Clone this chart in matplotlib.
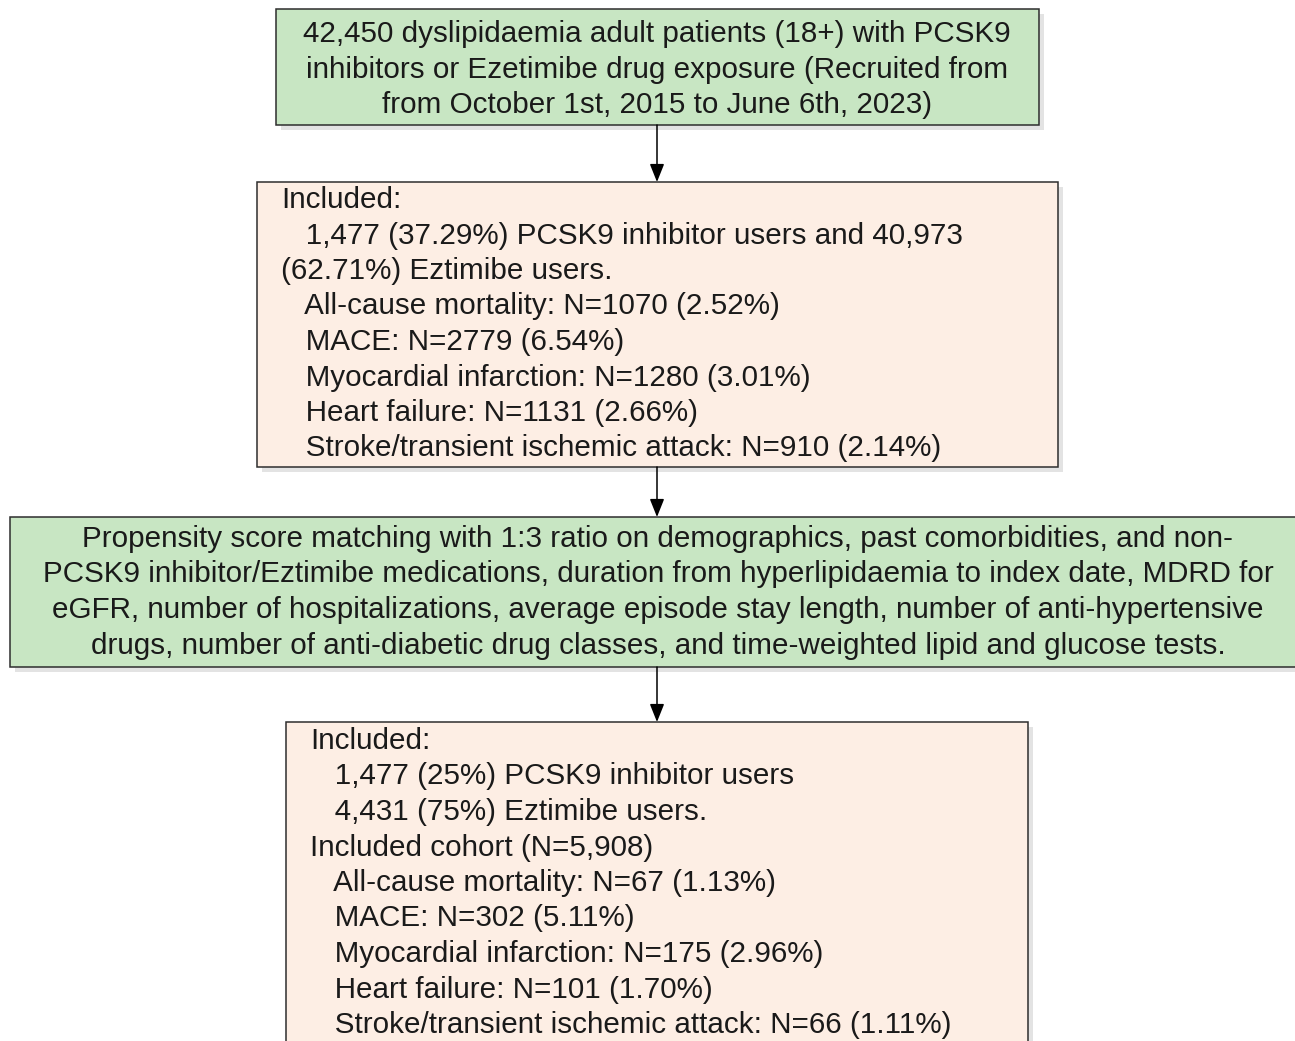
import matplotlib
matplotlib.use('Agg')
import matplotlib.pyplot as plt
from matplotlib.patches import Rectangle, FancyArrowPatch

W, H = 1295, 1041
GREEN = '#c8e6c3'
PEACH = '#fdeee4'
EDGE = '#2e2e2e'
SHADOW = '#e3e3e3'
TXT = '#1a1a1a'
FS = 21.3
STEP = 35.5

source_lines = [
    "42,450 dyslipidaemia adult patients (18+) with PCSK9",
    "inhibitors or Ezetimibe drug exposure (Recruited from",
    "from October 1st, 2015 to June 6th, 2023)",
]
included_lines = [
    "Included:",
    "   1,477 (37.29%) PCSK9 inhibitor users and 40,973",
    "(62.71%) Eztimibe users.",
    "   All-cause mortality: N=1070 (2.52%)",
    "   MACE: N=2779 (6.54%)",
    "   Myocardial infarction: N=1280 (3.01%)",
    "   Heart failure: N=1131 (2.66%)",
    "   Stroke/transient ischemic attack: N=910 (2.14%)",
]
psm_lines = [
    "Propensity score matching with 1:3 ratio on demographics, past comorbidities, and non-",
    "PCSK9 inhibitor/Eztimibe medications, duration from hyperlipidaemia to index date, MDRD for",
    "eGFR, number of hospitalizations, average episode stay length, number of anti-hypertensive",
    "drugs, number of anti-diabetic drug classes, and time-weighted lipid and glucose tests.",
]
matched_lines = [
    "Included:",
    "   1,477 (25%) PCSK9 inhibitor users",
    "   4,431 (75%) Eztimibe users.",
    "Included cohort (N=5,908)",
    "   All-cause mortality: N=67 (1.13%)",
    "   MACE: N=302 (5.11%)",
    "   Myocardial infarction: N=175 (2.96%)",
    "   Heart failure: N=101 (1.70%)",
    "   Stroke/transient ischemic attack: N=66 (1.11%)",
]

plt.rcParams['font.family'] = ['Liberation Sans', 'DejaVu Sans']

fig = plt.figure(figsize=(W / 100, H / 100), dpi=100)
ax = fig.add_axes([0, 0, 1, 1])
ax.set_xlim(0, W)
ax.set_ylim(H, 0)
ax.axis('off')


def box(x0, y0, x1, y1, fc):
    ax.add_patch(Rectangle((x0 + 5, y0 + 5), x1 - x0, y1 - y0,
                           fc=SHADOW, ec='none', zorder=1))
    ax.add_patch(Rectangle((x0, y0), x1 - x0, y1 - y0,
                           fc=fc, ec=EDGE, lw=1.1, zorder=2))


def write(items, x, y0, ha):
    for i, s in enumerate(items):
        ax.text(x, y0 + i * STEP, s, ha=ha, va='center', fontsize=FS,
                color=TXT, zorder=3)


def arrow(x, y0, y1):
    ax.add_patch(FancyArrowPatch((x, y0), (x, y1),
                                 arrowstyle='-|>,head_length=0.55,head_width=0.22',
                                 mutation_scale=20, color='black', lw=1.1,
                                 shrinkA=0, shrinkB=0, zorder=4))


box(276, 9, 1039, 125, GREEN)
write(source_lines, 657, 34, 'center')

box(257, 182, 1058, 467, PEACH)
write(included_lines, 281, 200, 'left')

box(10, 517, 1300, 667, GREEN)
write(psm_lines, 658, 539, 'center')

box(286, 722, 1028, 1070, PEACH)
write(matched_lines, 310, 741, 'left')

arrow(657, 125, 182)
arrow(657, 467, 517)
arrow(657, 667, 722)

fig.savefig('out.png', dpi=100)
plt.close(fig)
